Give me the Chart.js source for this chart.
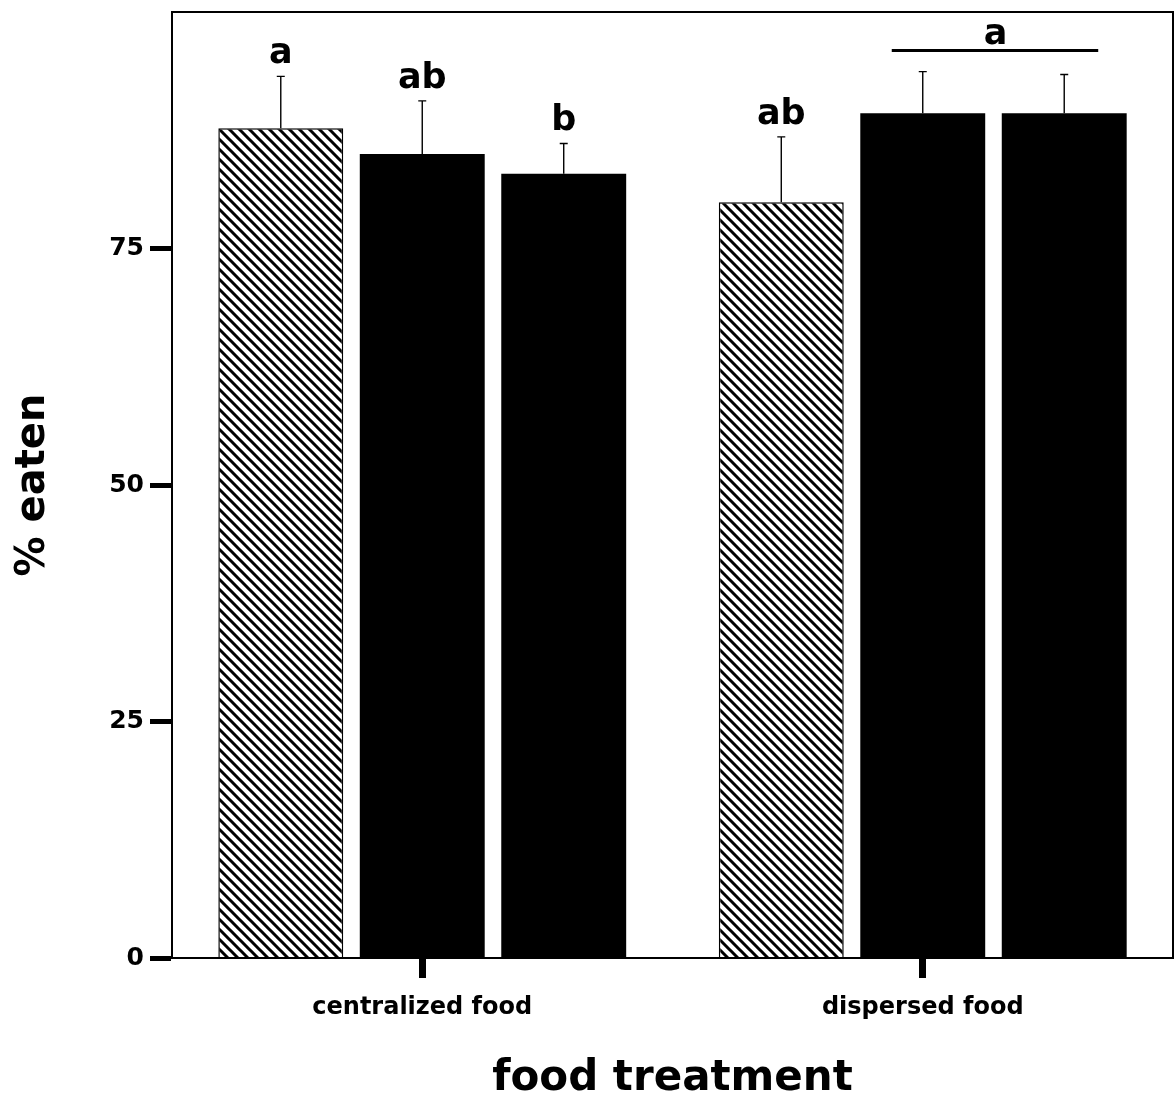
<!DOCTYPE html>
<html><head><meta charset="utf-8">
<script src="https://cdn.jsdelivr.net/npm/chart.js@4/dist/chart.umd.min.js"></script>
<style>html,body{margin:0;padding:0;background:#fff;} canvas{display:block;}</style>
</head><body>
<canvas id="c" width="1176" height="1105"></canvas>
<script>
// ---- data ----
const categories = ['centralized food', 'dispersed food'];
const seriesNames = ['series 1', 'series 2', 'series 3'];
const series1 = [87.7, 79.9];
const series2 = [85.0, 89.3];
const series3 = [82.9, 89.3];
const errors1 = [5.5, 6.9];
const errors2 = [5.6, 4.4];
const errors3 = [3.2, 4.1];
const letters1 = ['a', 'ab'];
const letters2 = ['ab', ''];
const letters3 = ['b', ''];
const sharedLetter = { category: 1, fromSeries: 1, toSeries: 2, text: 'a' };
const yTicks = [0, 25, 50, 75];
const yMax = 100;
const xTitle = 'food treatment';
const yTitle = '% eaten';

// ---- hatch pattern ----
function hatch() {
  const s = 10;
  const c = document.createElement('canvas');
  c.width = s; c.height = s;
  const g = c.getContext('2d');
  g.fillStyle = '#fff'; g.fillRect(0, 0, s, s);
  g.strokeStyle = '#000'; g.lineWidth = 3; g.lineCap = 'square';
  g.beginPath();
  g.moveTo(-2, -2); g.lineTo(s + 2, s + 2);
  g.moveTo(-2, s - 2); g.lineTo(2, s + 2);
  g.moveTo(s - 2, -2); g.lineTo(s + 2, 2);
  g.stroke();
  return document.getElementById('c').getContext('2d').createPattern(c, 'repeat');
}

const FONT = '"DejaVu Sans", sans-serif';

const annotate = {
  id: 'annotate',
  afterDatasetsDraw(chart) {
    const ctx = chart.ctx, y = chart.scales.y;
    const errs = [errors1, errors2, errors3];
    const lets = [letters1, letters2, letters3];
    ctx.save();
    ctx.strokeStyle = '#000'; ctx.fillStyle = '#000';
    ctx.font = 'bold 35px ' + FONT;
    ctx.textAlign = 'center'; ctx.textBaseline = 'alphabetic';
    const tops = [];
    chart.data.datasets.forEach((ds, i) => {
      const meta = chart.getDatasetMeta(i);
      tops[i] = [];
      meta.data.forEach((el, j) => {
        const top = y.getPixelForValue(ds.data[j] + errs[i][j]);
        tops[i][j] = top;
        ctx.lineWidth = 1.4;
        ctx.beginPath();
        ctx.moveTo(el.x, el.y); ctx.lineTo(el.x, top);
        ctx.moveTo(el.x - 4, top); ctx.lineTo(el.x + 4, top);
        ctx.stroke();
        if (lets[i][j]) ctx.fillText(lets[i][j], el.x, top - 13);
      });
    });
    // shared letter with line
    const s = sharedLetter;
    const e1 = chart.getDatasetMeta(s.fromSeries).data[s.category];
    const e2 = chart.getDatasetMeta(s.toSeries).data[s.category];
    const t = Math.min(tops[s.fromSeries][s.category], tops[s.toSeries][s.category]);
    const ly = t - 21;
    ctx.lineWidth = 3;
    ctx.beginPath(); ctx.moveTo(e1.x - 31, ly); ctx.lineTo(e2.x + 34, ly); ctx.stroke();
    ctx.fillText(s.text, (e1.x + e2.x) / 2 + 2, ly - 7);
    ctx.restore();
  },
  afterDraw(chart) {
    const ctx = chart.ctx, a = chart.chartArea;
    ctx.save();
    ctx.strokeStyle = '#000'; ctx.lineWidth = 2;
    ctx.strokeRect(a.left, a.top, a.right - a.left, a.bottom - a.top);
    ctx.restore();
  }
};

const pattern = hatch();

function zeroPad(s) { s.paddingTop = 0; s.paddingBottom = 0; s.paddingLeft = 0; s.paddingRight = 0; }

new Chart(document.getElementById('c'), {
  type: 'bar',
  data: {
    labels: categories,
    datasets: [
      { label: seriesNames[0], data: series1, backgroundColor: pattern, borderColor: '#000', borderWidth: 1.5 },
      { label: seriesNames[1], data: series2, backgroundColor: '#000', borderWidth: 0 },
      { label: seriesNames[2], data: series3, backgroundColor: '#000', borderWidth: 0 }
    ]
  },
  options: {
    responsive: false,
    animation: false,
    events: [],
    categoryPercentage: 0.848,
    barPercentage: 0.883,
    layout: { padding: { top: 12, right: 3, left: 0, bottom: 0 } },
    plugins: { legend: { display: false }, tooltip: { enabled: false } },
    scales: {
      x: {
        afterFit(s) { s.height = 147; zeroPad(s); },
        grid: { offset: false, drawOnChartArea: false, drawTicks: true, tickLength: 20, tickWidth: 7, tickColor: '#000' },
        border: { display: true, color: '#000', width: 2 },
        ticks: { color: '#000', padding: 15, font: { family: FONT, weight: 'bold', size: 24, lineHeight: 1.2 } },
        title: { display: true, text: xTitle, color: '#000', padding: { top: 0, bottom: 1 }, font: { family: FONT, weight: 'bold', size: 42, lineHeight: 1.2 } }
      },
      y: {
        min: 0, max: yMax,
        afterFit(s) { s.width = 172; zeroPad(s); },
        afterBuildTicks(s) { s.ticks = yTicks.map(v => ({ value: v })); },
        grid: { drawOnChartArea: false, drawTicks: true, tickLength: 22, tickWidth: 5, tickColor: '#000' },
        border: { display: true, color: '#000', width: 2 },
        ticks: { color: '#000', padding: 6, font: { family: FONT, weight: 'bold', size: 25 } },
        title: { display: true, text: yTitle, color: '#000', padding: { top: 10, bottom: 0 }, font: { family: FONT, weight: 'bold', size: 40, lineHeight: 1.2 } }
      }
    }
  },
  plugins: [annotate]
});
</script>
</body></html>
